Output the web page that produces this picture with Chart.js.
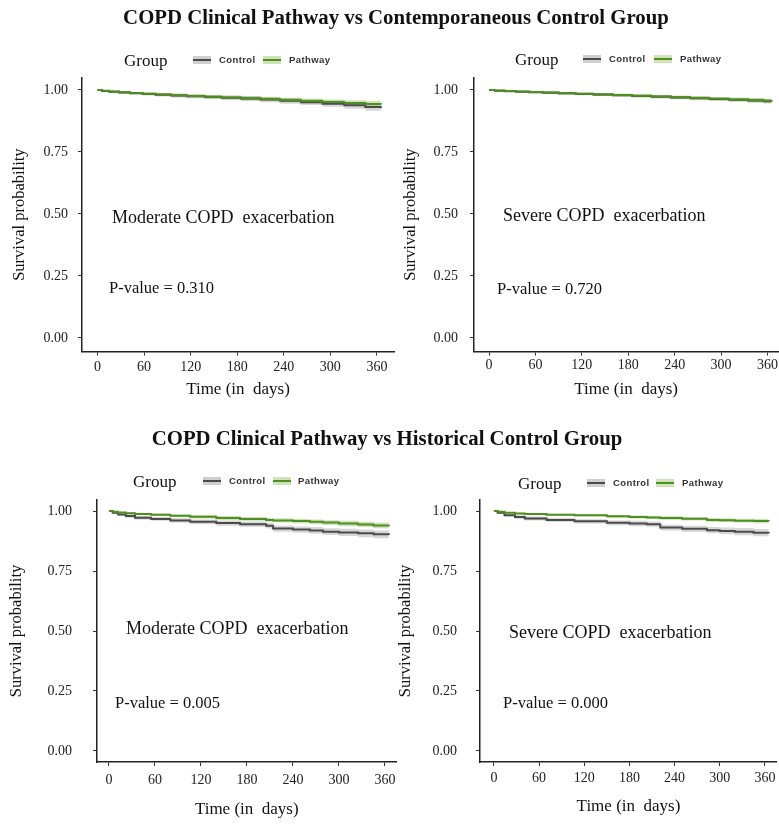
<!DOCTYPE html>
<html>
<head>
<meta charset="utf-8">
<script src="https://cdn.jsdelivr.net/npm/chart.js@4.4.1/dist/chart.umd.min.js"></script>
<style>
  body { margin: 0; background: #fff; }
  #page { position: relative; width: 779px; height: 825px; overflow: hidden; font-family: "Liberation Serif", "Times New Roman", serif; color: #111; }
  canvas { position: absolute; left: 0; top: 0; }
  .t { position: absolute; white-space: pre; line-height: 1; transform: translateY(-50%); }
  .title { font-weight: bold; font-size: 20.8px; transform: translate(-50%, -50%); }
  .note { font-size: 18px; }
  .pval { font-size: 16.5px; }
  .grp { font-size: 17px; }
  .lab { font-family: "Liberation Sans", Arial, sans-serif; font-weight: bold; font-size: 9.5px; letter-spacing: 0.4px; color: #333; }
  .key { position: absolute; width: 18px; height: 8px; transform: translateY(-50%); }
  .key::after { content: ""; position: absolute; left: 0; right: 0; top: 3px; height: 2px; }
  .key.c { background: #cfcfcf; }
  .key.c::after { background: #4b4b4b; }
  .key.p { background: #cfe3bb; }
  .key.p::after { background: #4f8f1f; }
</style>
</head>
<body>
<div id="page">
  <canvas id="c1" width="779" height="825"></canvas>
  <canvas id="c2" width="779" height="825"></canvas>
  <canvas id="c3" width="779" height="825"></canvas>
  <canvas id="c4" width="779" height="825"></canvas>

  <div class="t title" style="left:396px;top:17px">COPD Clinical Pathway vs Contemporaneous Control Group</div>
  <div class="t title" style="left:387px;top:438px">COPD Clinical Pathway vs Historical Control Group</div>

  <!-- legends -->
  <div class="t grp" style="left:124px;top:60px">Group</div>
  <div class="key c" style="left:193px;top:60px"></div><div class="t lab" style="left:219px;top:60px">Control</div>
  <div class="key p" style="left:263px;top:60px"></div><div class="t lab" style="left:289px;top:60px">Pathway</div>

  <div class="t grp" style="left:515px;top:59px">Group</div>
  <div class="key c" style="left:583px;top:59px"></div><div class="t lab" style="left:609px;top:59px">Control</div>
  <div class="key p" style="left:654px;top:59px"></div><div class="t lab" style="left:680px;top:59px">Pathway</div>

  <div class="t grp" style="left:133px;top:481px">Group</div>
  <div class="key c" style="left:203px;top:481px"></div><div class="t lab" style="left:229px;top:481px">Control</div>
  <div class="key p" style="left:273px;top:481px"></div><div class="t lab" style="left:298px;top:481px">Pathway</div>

  <div class="t grp" style="left:518px;top:483px">Group</div>
  <div class="key c" style="left:587px;top:483px"></div><div class="t lab" style="left:613px;top:483px">Control</div>
  <div class="key p" style="left:656px;top:483px"></div><div class="t lab" style="left:682px;top:483px">Pathway</div>

  <!-- panel notes -->
  <div class="t note" style="left:112px;top:217px">Moderate COPD  exacerbation</div>
  <div class="t pval" style="left:109px;top:288px">P-value = 0.310</div>
  <div class="t note" style="left:503px;top:215px">Severe COPD  exacerbation</div>
  <div class="t pval" style="left:497px;top:289px">P-value = 0.720</div>
  <div class="t note" style="left:126px;top:628px">Moderate COPD  exacerbation</div>
  <div class="t pval" style="left:115px;top:703px">P-value = 0.005</div>
  <div class="t note" style="left:509px;top:632px">Severe COPD  exacerbation</div>
  <div class="t pval" style="left:503px;top:703px">P-value = 0.000</div>
</div>

<script>
/* ===============================
   data
================================ */
const xTicks = [0, 60, 120, 180, 240, 300, 360];
const yTicks = [0, 0.25, 0.5, 0.75, 1];

// 1. moderate, contemporaneous control
const days1     = [0, 6, 15, 28, 42, 58, 75, 95, 115, 138, 160, 185, 210, 235, 262, 290, 318, 345, 365];
const control1  = [1, 0.996, 0.993, 0.990, 0.987, 0.984, 0.981, 0.978, 0.975, 0.972, 0.969, 0.966, 0.962, 0.957, 0.951, 0.945, 0.938, 0.931, 0.926];
const pathway1  = [1, 0.997, 0.994, 0.991, 0.988, 0.985, 0.982, 0.979, 0.976, 0.973, 0.970, 0.967, 0.964, 0.960, 0.956, 0.952, 0.948, 0.944, 0.941];
const controlCI1 = [0, 0.003, 0.004, 0.005, 0.005, 0.006, 0.007, 0.008, 0.008, 0.009, 0.009, 0.010, 0.011, 0.012, 0.012, 0.013, 0.014, 0.015, 0.016];
const pathwayCI1 = [0, 0.002, 0.003, 0.004, 0.004, 0.005, 0.005, 0.006, 0.006, 0.007, 0.007, 0.008, 0.008, 0.009, 0.010, 0.010, 0.011, 0.012, 0.012];

// 2. severe, contemporaneous control
const days2     = [0, 8, 20, 35, 52, 70, 90, 112, 135, 160, 185, 210, 235, 260, 285, 310, 335, 355, 365];
const control2  = [1, 0.997, 0.995, 0.993, 0.991, 0.989, 0.987, 0.984, 0.982, 0.979, 0.976, 0.973, 0.970, 0.967, 0.964, 0.961, 0.958, 0.955, 0.953];
const pathway2  = [1, 0.998, 0.996, 0.994, 0.992, 0.990, 0.987, 0.985, 0.982, 0.980, 0.977, 0.974, 0.971, 0.968, 0.965, 0.962, 0.959, 0.957, 0.955];
const controlCI2 = [0, 0.002, 0.003, 0.003, 0.004, 0.004, 0.005, 0.005, 0.006, 0.006, 0.006, 0.007, 0.007, 0.008, 0.008, 0.008, 0.009, 0.009, 0.010];
const pathwayCI2 = [0, 0.002, 0.002, 0.003, 0.003, 0.004, 0.004, 0.005, 0.005, 0.005, 0.006, 0.006, 0.006, 0.007, 0.007, 0.007, 0.008, 0.008, 0.009];

// 3. moderate, historical control
const days3     = [0, 5, 12, 22, 34, 55, 80, 106, 140, 171, 205, 214, 240, 262, 279, 300, 325, 345, 365];
const control3  = [1, 0.993, 0.986, 0.979, 0.972, 0.967, 0.961, 0.955, 0.950, 0.945, 0.939, 0.927, 0.923, 0.919, 0.914, 0.911, 0.907, 0.903, 0.900];
const pathway3  = [1, 0.997, 0.994, 0.991, 0.988, 0.985, 0.980, 0.976, 0.971, 0.967, 0.963, 0.961, 0.958, 0.955, 0.952, 0.948, 0.944, 0.940, 0.937];
const controlCI3 = [0, 0.004, 0.005, 0.007, 0.008, 0.008, 0.009, 0.010, 0.011, 0.011, 0.012, 0.013, 0.013, 0.014, 0.014, 0.015, 0.016, 0.016, 0.017];
const pathwayCI3 = [0, 0.002, 0.003, 0.004, 0.005, 0.005, 0.006, 0.007, 0.008, 0.008, 0.008, 0.009, 0.009, 0.010, 0.010, 0.011, 0.011, 0.012, 0.013];

// 4. severe, historical control
const days4     = [0, 5, 14, 28, 41, 70, 107, 150, 180, 203, 221, 250, 283, 300, 320, 345, 365];
const control4  = [1, 0.993, 0.982, 0.975, 0.969, 0.963, 0.957, 0.951, 0.948, 0.945, 0.931, 0.926, 0.920, 0.917, 0.914, 0.910, 0.907];
const pathway4  = [1, 0.997, 0.993, 0.990, 0.988, 0.985, 0.982, 0.978, 0.975, 0.973, 0.971, 0.968, 0.963, 0.962, 0.960, 0.958, 0.957];
const controlCI4 = [0, 0.004, 0.005, 0.007, 0.008, 0.008, 0.009, 0.010, 0.011, 0.011, 0.012, 0.013, 0.013, 0.014, 0.015, 0.015, 0.016];
const pathwayCI4 = [0, 0.002, 0.003, 0.004, 0.004, 0.004, 0.005, 0.006, 0.006, 0.007, 0.007, 0.007, 0.008, 0.008, 0.008, 0.009, 0.010];

/* ===============================
   chart builder
================================ */
const SERIF = '"Liberation Serif", "Times New Roman", serif';
const CONTROL_LINE = '#4b4b4b';
const CONTROL_BAND = 'rgba(150, 150, 150, 0.38)';
const PATHWAY_LINE = '#4f8f1f';
const PATHWAY_BAND = 'rgba(125, 180, 75, 0.38)';

const pts = (days, s, ci, sign) =>
  days.map((d, i) => ({ x: d, y: Math.min(1, s[i] + sign * ci[i]) }));

function line(data, color) {
  return { data, borderColor: color, borderWidth: 2, pointRadius: 0, stepped: true, fill: false };
}
function edge(data, fill, bg) {
  return { data, borderWidth: 0, pointRadius: 0, stepped: true, fill, backgroundColor: bg };
}

function makePanel(id, days, ctrl, path, ctrlCI, pathCI, box) {
  const ctx = document.getElementById(id).getContext('2d');
  return new Chart(ctx, {
    type: 'line',
    data: {
      datasets: [
        line(pts(days, path, pathCI, 0), PATHWAY_LINE),
        line(pts(days, ctrl, ctrlCI, 0), CONTROL_LINE),
        edge(pts(days, path, pathCI, 1), 3, PATHWAY_BAND),
        edge(pts(days, path, pathCI, -1), false, PATHWAY_BAND),
        edge(pts(days, ctrl, ctrlCI, 1), 5, CONTROL_BAND),
        edge(pts(days, ctrl, ctrlCI, -1), false, CONTROL_BAND)
      ]
    },
    options: {
      responsive: false,
      animation: false,
      devicePixelRatio: 1,
      events: [],
      layout: { autoPadding: false, padding: box.pad },
      plugins: { legend: { display: false }, tooltip: { enabled: false } },
      scales: {
        x: {
          type: 'linear',
          min: box.xMin,
          max: box.xMax,
          afterBuildTicks: s => { s.ticks = xTicks.map(v => ({ value: v })); },
          afterFit: s => { s.height = box.xh; },
          grid: { drawOnChartArea: false, drawTicks: true, tickLength: 4, color: '#333' },
          border: { color: '#222', width: 1.5 },
          ticks: { color: '#222', padding: box.xPad, maxRotation: 0, autoSkip: false, font: { family: SERIF, size: 14 } },
          title: { display: true, text: 'Time (in  days)', color: '#111', padding: { top: 0, bottom: 4 }, font: { family: SERIF, size: 17 } }
        },
        y: {
          min: box.yMin,
          max: box.yMax,
          afterBuildTicks: s => { s.ticks = yTicks.map(v => ({ value: v })); },
          afterFit: s => { s.width = box.yw; },
          grid: { drawOnChartArea: false, drawTicks: true, tickLength: 4, color: '#333' },
          border: { color: '#222', width: 1.5 },
          ticks: { color: '#222', padding: box.yPad, font: { family: SERIF, size: 14 }, callback: v => v.toFixed(2) },
          title: { display: true, text: 'Survival probability', color: '#111', padding: { top: box.tPad, bottom: 0 }, font: { family: SERIF, size: 16.5 } }
        }
      }
    }
  });
}

/* ===============================
   1-4. panels
================================ */
makePanel('c1', days1, control1, pathway1, controlCI1, pathwayCI1, {
  pad: { left: 0, top: 77.6, right: 385, bottom: 421 }, yw: 82, xh: 52.4,
  xMin: -20, xMax: 382, yMin: -0.055, yMax: 1.05, xPad: 3, yPad: 10, tPad: 10
});
makePanel('c2', days2, control2, pathway2, controlCI2, pathwayCI2, {
  pad: { left: 395, top: 77.6, right: 0, bottom: 421 }, yw: 79, xh: 52.4,
  xMin: -19.4, xMax: 374, yMin: -0.055, yMax: 1.05, xPad: 1, yPad: 12, tPad: 6
});
makePanel('c3', days3, control3, pathway3, controlCI3, pathwayCI3, {
  pad: { left: 0, top: 500, right: 382.5, bottom: 0.8 }, yw: 97, xh: 62.2,
  xMin: -15.6, xMax: 375, yMin: -0.046, yMax: 1.046, xPad: 5.6, yPad: 21, tPad: 7
});
makePanel('c4', days4, control4, pathway4, controlCI4, pathwayCI4, {
  pad: { left: 390, top: 500, right: 0, bottom: 3.8 }, yw: 90, xh: 59.2,
  xMin: -18.5, xMax: 376, yMin: -0.046, yMax: 1.046, xPad: 3.6, yPad: 19, tPad: 6
});
</script>
</body>
</html>
